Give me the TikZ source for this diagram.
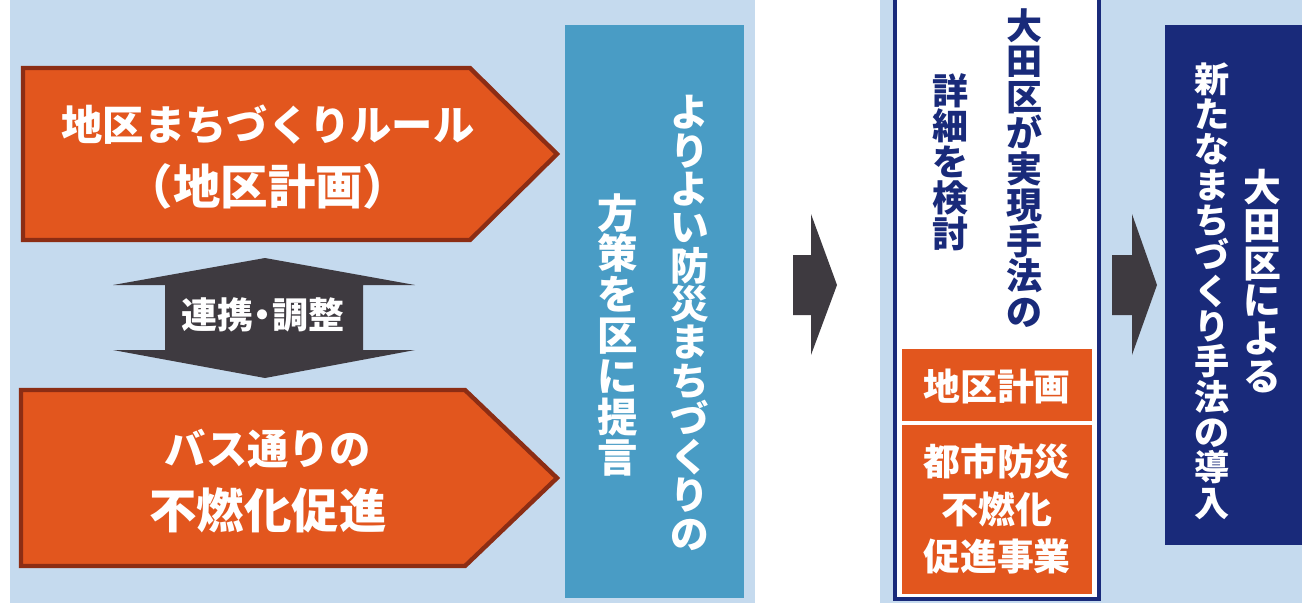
\documentclass[tikz,border=0pt]{standalone}
\usepackage{fontspec}
\newfontfamily\jp{Noto Sans CJK JP Black}
\newcommand\tatefont[2]{\jp\fontsize{#1}{#2}\selectfont\lineskiplimit=-50pt\relax}
\definecolor{paleblue}{RGB}{197,218,238}
\definecolor{burnt}{RGB}{226,86,30}
\definecolor{burntedge}{RGB}{140,45,20}
\definecolor{slate}{RGB}{62,58,64}
\definecolor{seablue}{RGB}{73,156,197}
\definecolor{navy}{RGB}{25,42,122}

\begin{document}
\begin{tikzpicture}[x=0.02cm, y=-0.02cm,
    orarrow/.style={fill=burnt, draw=burntedge, line width=2.5pt},
    darkarrow/.style={fill=slate},
    wlabel/.style={text=white, align=center, inner sep=0pt},
    nlabel/.style={text=navy, align=center, inner sep=0pt}]
  \useasboundingbox (0,0) rectangle (1302,603);
  % background panels
  \fill[paleblue] (10,0) rectangle (755,603);
  \fill[paleblue] (880,0) rectangle (1302,603);

  % two proposals
  \filldraw[orarrow] (23,68) -- (470,68) -- (557,154) -- (470,240) -- (23,240) -- cycle;
  \filldraw[orarrow] (21,390) -- (465,390) -- (557,478) -- (465,566) -- (21,566) -- cycle;
  \node[wlabel, font=\jp\fontsize{27}{36}\selectfont] (rule) at (268,157) {{\fontsize{23.5}{36}\selectfont 地区まちづくりルール}\\（地区計画）};
  \node[wlabel, font=\jp\fontsize{27}{36}\selectfont] (bus) at (268,481) {{\fontsize{23.5}{36}\selectfont バス通りの}\\不燃化促進};

  % link between them
  \fill[darkarrow] (265,258) -- (415,285) -- (363,285) -- (363,350) -- (415,350) -- (265,378)
    -- (113,350) -- (165,350) -- (165,285) -- (113,285) -- cycle;
  \node[wlabel, font=\jp\fontsize{20.5}{22}\selectfont] (link) at (263,315) {連携\hspace{-0.25em}・\hspace{-0.25em}調整};

  % proposal box
  \fill[seablue] (565,25) rectangle (744,598);
  \node[wlabel, font=\tatefont{22}{21.8}] (better) at (690,323) {よ\\り\\よ\\い\\防\\災\\ま\\ち\\づ\\く\\り\\の};
  \node[wlabel, font=\tatefont{23}{23.2}] (plan) at (618,335) {方\\策\\を\\区\\に\\提\\言};

  \fill[darkarrow] (793,255) -- (811,255) -- (811,214) -- (837,285) -- (811,355) -- (811,315) -- (793,315) -- cycle;

  % ward study
  \filldraw[fill=white, draw=navy, line width=1.8pt] (895,-10) rectangle (1099,599);
  \node[nlabel, font=\tatefont{20.5}{20.4}] (method) at (1024,168) {大\\田\\区\\が\\実\\現\\手\\法\\の};
  \node[nlabel, font=\tatefont{20.5}{20.4}] (detail) at (950,162) {詳\\細\\を\\検\\討};
  \fill[burnt] (902,349) rectangle (1092,421);
  \fill[burnt] (902,425) rectangle (1092,594);
  \node[wlabel, font=\jp\fontsize{21}{27}\selectfont] (district) at (997,386) {地区計画};
  \node[wlabel, font=\jp\fontsize{21}{27}\selectfont] (fireproof) at (997,509) {都市防災\\不燃化\\促進事業};

  \fill[darkarrow] (1112,255) -- (1132,255) -- (1132,214) -- (1157,285) -- (1132,355) -- (1132,315) -- (1112,315) -- cycle;

  % new method
  \fill[navy] (1165,25) rectangle (1302,545);
  \node[wlabel, font=\tatefont{21.5}{21.5}] (ward) at (1262,281) {大\\田\\区\\に\\よ\\る};
  \node[wlabel, font=\tatefont{20}{20.1}] (intro) at (1212,291) {新\\た\\な\\ま\\ち\\づ\\く\\り\\手\\法\\の\\導\\入};
\end{tikzpicture}
\end{document}
